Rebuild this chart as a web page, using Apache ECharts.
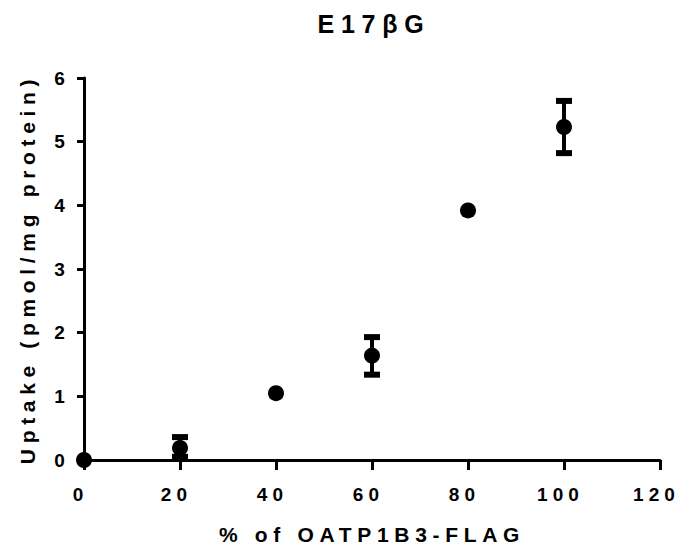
<!DOCTYPE html>
<html>
<head>
<meta charset="utf-8">
<script src="https://cdn.jsdelivr.net/npm/echarts@6/dist/echarts.min.js"></script>
<style>
  html, body { margin: 0; padding: 0; background: #fff; }
  #chart { width: 681px; height: 551px; }
  /* the original graph uses wide letter spacing on every text */
  #chart text { letter-spacing: 0.27em; }
</style>
</head>
<body>
<div id="chart"></div>
<script>
// % of OATP1B3-FLAG
var percent = [0, 20, 40, 60, 80, 100];
// mean uptake (pmol/mg protein)
var uptake = [0, 0.19, 1.05, 1.64, 3.92, 5.23];
// error bar ends (null = no visible bar)
var errLow = [null, 0.05, null, 1.34, null, 4.82];
var errHigh = [null, 0.36, null, 1.93, null, 5.64];

var font = 'Liberation Sans, Arial, sans-serif';

var pts = percent.map(function (x, i) { return [x, uptake[i]]; });
var bars = [];
percent.forEach(function (x, i) {
    if (errLow[i] != null) bars.push([x, errLow[i], errHigh[i]]);
});

var chart = echarts.init(document.getElementById('chart'), null, { renderer: 'svg' });
chart.setOption({
    animation: false,
    title: {
        text: 'E17βG',
        left: 369,
        textAlign: 'center',
        top: 6,
        textStyle: { fontFamily: font, fontSize: 25, fontWeight: 'bold', color: '#000' }
    },
    grid: { left: 84, right: 21, top: 78, bottom: 91 },
    xAxis: {
        type: 'value',
        min: 0, max: 120, interval: 20,
        name: '% of OATP1B3-FLAG',
        nameLocation: 'middle',
        nameGap: 64,
        nameTextStyle: { fontFamily: font, fontSize: 21, fontWeight: 'bold', color: '#000' },
        axisLine: { lineStyle: { color: '#000', width: 3 } },
        axisTick: { length: 10, lineStyle: { color: '#000', width: 3 } },
        axisLabel: { margin: 25, padding: [0, 7, 0, 0], fontFamily: font, fontSize: 19, fontWeight: 'bold', color: '#000' },
        splitLine: { show: false }
    },
    yAxis: {
        type: 'value',
        min: 0, max: 6, interval: 1,
        name: 'Uptake (pmol/mg protein)',
        nameLocation: 'middle',
        nameGap: 46,
        nameTextStyle: { fontFamily: font, fontSize: 21, fontWeight: 'bold', color: '#000' },
        axisLine: { show: true, lineStyle: { color: '#000', width: 3 } },
        axisTick: { show: true, length: 7, lineStyle: { color: '#000', width: 3 } },
        axisLabel: { margin: 14, fontFamily: font, fontSize: 19, fontWeight: 'bold', color: '#000' },
        splitLine: { show: false }
    },
    series: [{
        type: 'custom',
        data: bars,
        clip: false,
        z: 3,
        renderItem: function (params, api) {
            var x = api.value(0);
            var lo = api.coord([x, api.value(1)]);
            var hi = api.coord([x, api.value(2)]);
            var w = 8;
            var st = { stroke: '#000', lineWidth: 4 };
            var cap = { stroke: '#000', lineWidth: 6 };
            return {
                type: 'group',
                children: [
                    { type: 'line', shape: { x1: lo[0], y1: lo[1], x2: hi[0], y2: hi[1] }, style: st },
                    { type: 'line', shape: { x1: hi[0] - w, y1: hi[1], x2: hi[0] + w, y2: hi[1] }, style: cap },
                    { type: 'line', shape: { x1: lo[0] - w, y1: lo[1], x2: lo[0] + w, y2: lo[1] }, style: cap }
                ]
            };
        }
    }, {
        type: 'scatter',
        data: pts,
        symbol: 'circle',
        symbolSize: 16,
        clip: false,
        z: 4,
        itemStyle: { color: '#000', opacity: 1 }
    }]
});
</script>
</body>
</html>
